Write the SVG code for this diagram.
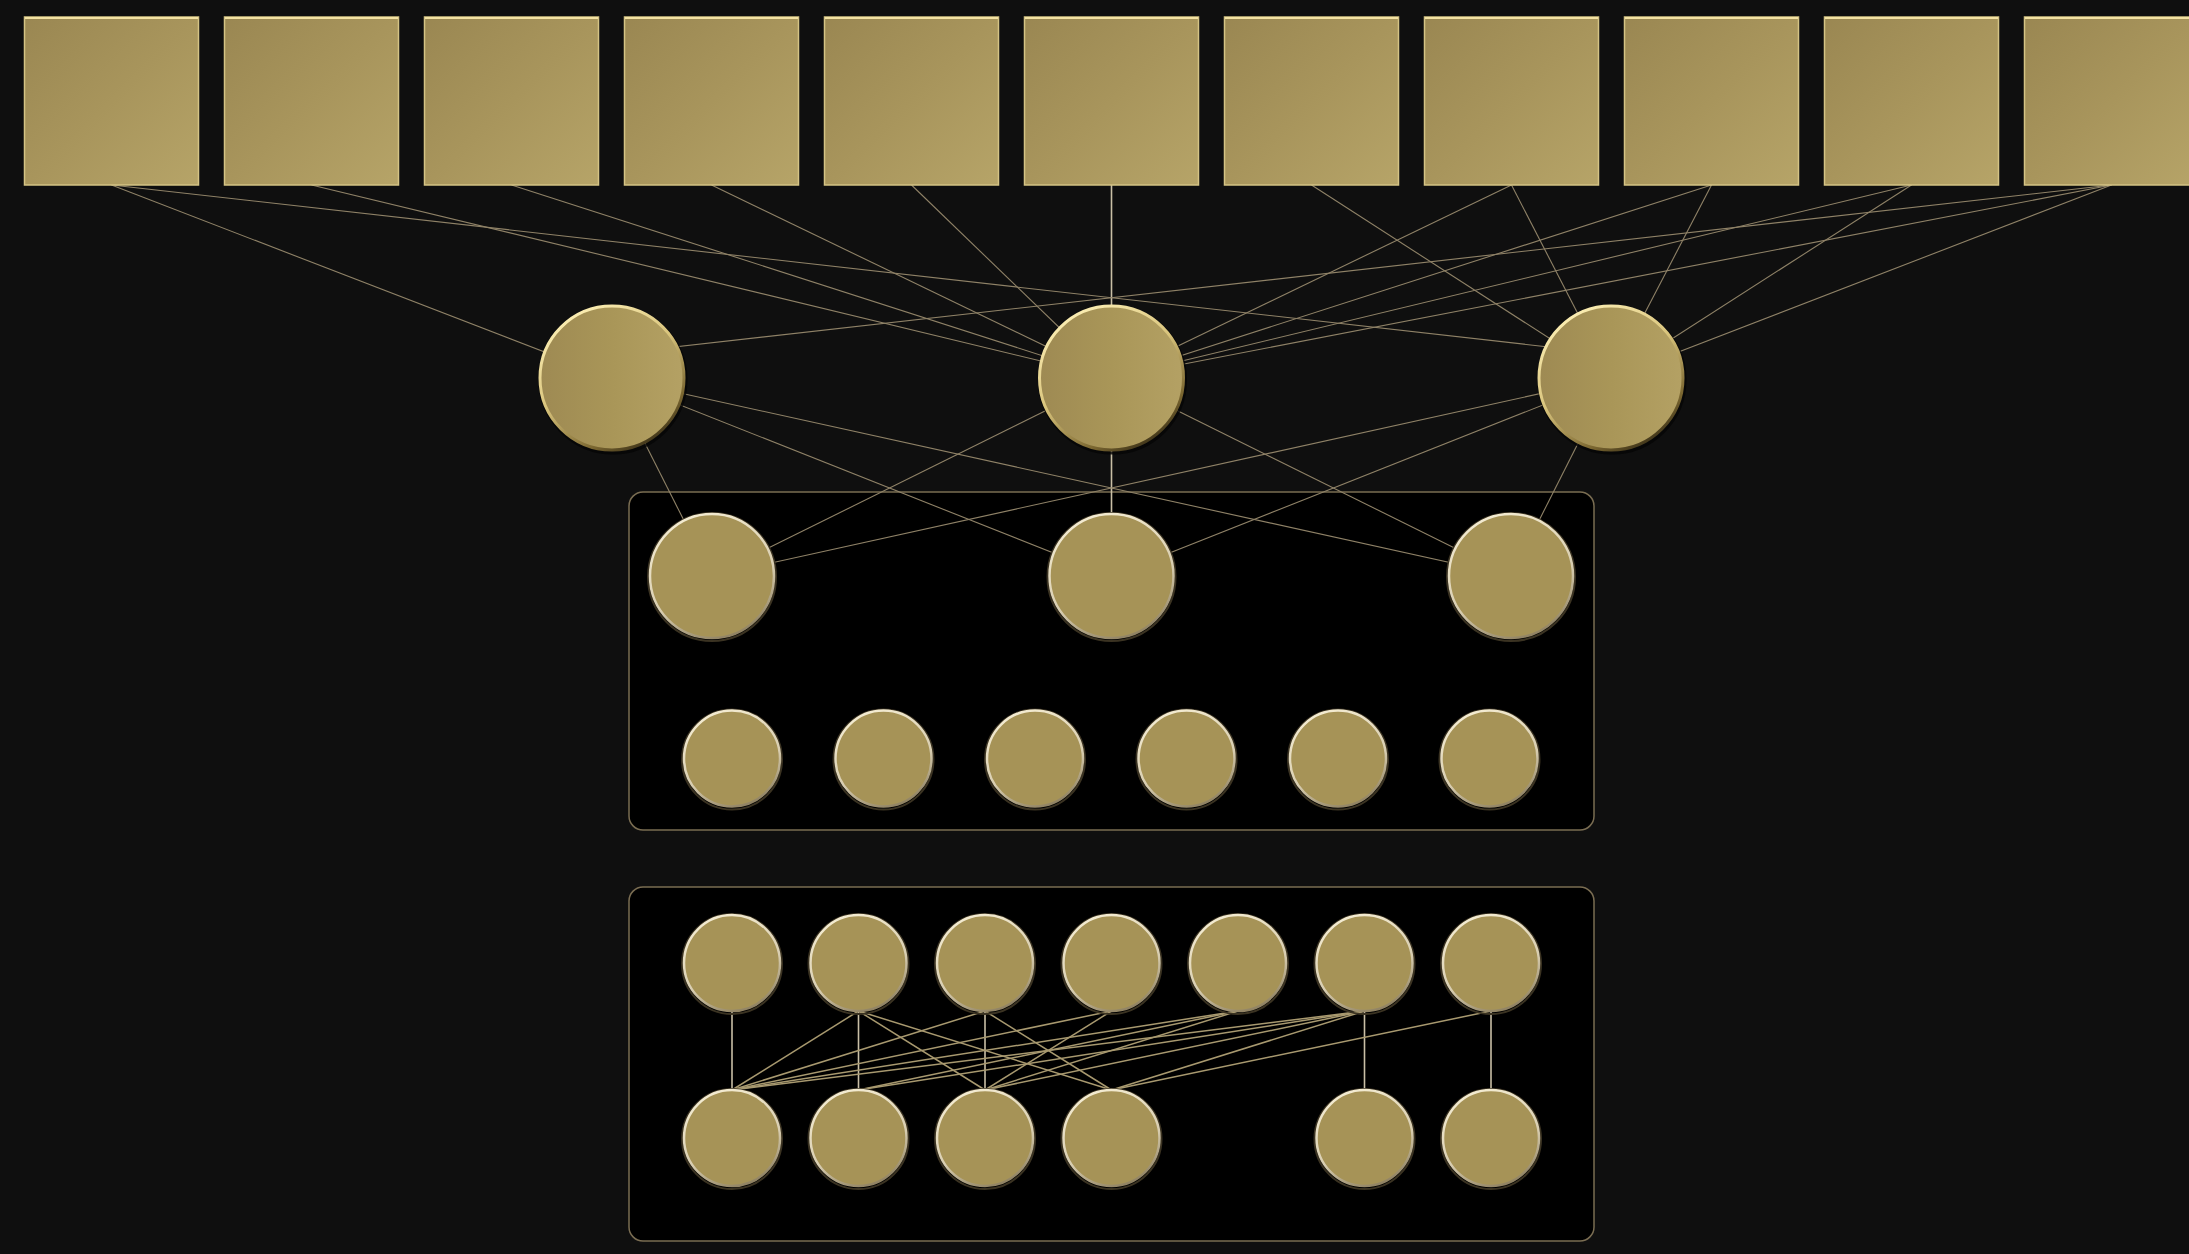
<svg xmlns="http://www.w3.org/2000/svg" width="2189" height="1254" viewBox="0 0 2189 1254">
<defs>
<linearGradient id="sqGrad" x1="0" y1="0" x2="1" y2="1">
<stop offset="0" stop-color="#9a8752"/>
<stop offset="0.5" stop-color="#a8955c"/>
<stop offset="1" stop-color="#b6a468"/>
</linearGradient>
<linearGradient id="midGrad" x1="0" y1="0" x2="1" y2="0">
<stop offset="0" stop-color="#9e8a53"/>
<stop offset="0.5" stop-color="#a99658"/>
<stop offset="1" stop-color="#b4a164"/>
</linearGradient>
<linearGradient id="rimGrad" x1="0.2" y1="0" x2="0.8" y2="1">
<stop offset="0" stop-color="#fff2b8"/>
<stop offset="0.45" stop-color="#d9c47c"/>
<stop offset="0.8" stop-color="#7a6630"/>
<stop offset="1" stop-color="#2c2412"/>
</linearGradient>
<linearGradient id="smallRim" x1="0.3" y1="0" x2="0.7" y2="1">
<stop offset="0" stop-color="#f4ecd2"/>
<stop offset="0.6" stop-color="#d8cdb0"/>
<stop offset="1" stop-color="#8a7c5c"/>
</linearGradient>
</defs>
<style>
.bg{fill:#0f0f0f}
.box{fill:#000;stroke:#7a6d52;stroke-width:1.5}
.sq{fill:url(#sqGrad);stroke:#d4c384;stroke-width:1.5}
.sqTop{stroke:#f3e2a2;stroke-width:2}
.mid{fill:url(#midGrad);stroke:url(#rimGrad);stroke-width:3}
.midShadow{fill:none;stroke:#050505;stroke-width:3;opacity:0.8}
.big{fill:#a69357;stroke:url(#smallRim);stroke-width:2.5}
.sm{fill:#a69357;stroke:url(#smallRim);stroke-width:2.5}
.ring{fill:none;stroke:#3b3322;stroke-width:2}
.ln{stroke:#8f8267;stroke-width:1.1;fill:none}
.ln2{stroke:#a8996f;stroke-width:1.5;fill:none}
.vert{stroke:#c9bfa6;stroke-width:1.6;fill:none}
</style>
<rect class="bg" x="0" y="0" width="2189" height="1254"/>

<g id="cluster1"><rect class="box" x="629" y="492" width="965" height="338" rx="14"/></g>
<g id="cluster2"><rect class="box" x="629" y="887" width="965" height="354" rx="14"/></g>

<g id="connectors">
<!-- squares to mid circles -->
<line class="ln" x1="111.5" y1="185" x2="612" y2="378"/>
<line class="ln" x1="111.5" y1="185" x2="1611" y2="354"/>
<line class="ln" x1="311.5" y1="185" x2="1111.5" y2="378"/>
<line class="ln" x1="511.5" y1="185" x2="1111.5" y2="378"/>
<line class="ln" x1="711.5" y1="185" x2="1111.5" y2="378"/>
<line class="ln" x1="911.5" y1="185" x2="1111.5" y2="378"/>
<line class="vert" x1="1111.5" y1="185" x2="1111.5" y2="378"/>
<line class="ln" x1="1311.5" y1="185" x2="1611" y2="378"/>
<line class="ln" x1="1511.5" y1="185" x2="1111.5" y2="378"/>
<line class="ln" x1="1511.5" y1="185" x2="1611" y2="378"/>
<line class="ln" x1="1711.5" y1="185" x2="1111.5" y2="378"/>
<line class="ln" x1="1711.5" y1="185" x2="1611" y2="378"/>
<line class="ln" x1="1911.5" y1="185" x2="1111.5" y2="378"/>
<line class="ln" x1="1911.5" y1="185" x2="1611" y2="378"/>
<line class="ln" x1="2111.5" y1="185" x2="1111.5" y2="378"/>
<line class="ln" x1="2111.5" y1="185" x2="1611" y2="378"/>
<line class="ln" x1="2111.5" y1="185" x2="612" y2="354"/>
<!-- mid circles to cluster1 -->
<line class="ln" x1="612" y1="378" x2="712" y2="576"/>
<line class="ln" x1="612" y1="378" x2="1111.5" y2="576"/>
<line class="ln" x1="612" y1="378" x2="1511" y2="576"/>
<line class="ln" x1="1111.5" y1="378" x2="712" y2="576"/>
<line class="vert" x1="1111.5" y1="378" x2="1111.5" y2="576"/>
<line class="ln" x1="1111.5" y1="378" x2="1511" y2="576"/>
<line class="ln" x1="1611" y1="378" x2="712" y2="576"/>
<line class="ln" x1="1611" y1="378" x2="1111.5" y2="576"/>
<line class="ln" x1="1611" y1="378" x2="1511" y2="576"/>
<!-- cluster2 -->
<line class="vert" x1="732" y1="1011" x2="732" y2="1090"/>
<line class="ln2" x1="858.5" y1="1011" x2="732" y2="1090"/>
<line class="vert" x1="858.5" y1="1011" x2="858.5" y2="1090"/>
<line class="ln2" x1="858.5" y1="1011" x2="985" y2="1090"/>
<line class="ln2" x1="858.5" y1="1011" x2="1111.5" y2="1090"/>
<line class="ln2" x1="985" y1="1011" x2="732" y2="1090"/>
<line class="vert" x1="985" y1="1011" x2="985" y2="1090"/>
<line class="ln2" x1="985" y1="1011" x2="1111.5" y2="1090"/>
<line class="ln2" x1="1111.5" y1="1011" x2="732" y2="1090"/>
<line class="ln2" x1="1111.5" y1="1011" x2="985" y2="1090"/>
<line class="ln2" x1="1238" y1="1011" x2="732" y2="1090"/>
<line class="ln2" x1="1238" y1="1011" x2="858.5" y2="1090"/>
<line class="ln2" x1="1238" y1="1011" x2="985" y2="1090"/>
<line class="ln2" x1="1364.5" y1="1011" x2="732" y2="1090"/>
<line class="ln2" x1="1364.5" y1="1011" x2="858.5" y2="1090"/>
<line class="ln2" x1="1364.5" y1="1011" x2="985" y2="1090"/>
<line class="ln2" x1="1364.5" y1="1011" x2="1111.5" y2="1090"/>
<line class="vert" x1="1364.5" y1="1011" x2="1364.5" y2="1090"/>
<line class="ln2" x1="1491" y1="1011" x2="1111.5" y2="1090"/>
<line class="vert" x1="1491" y1="1011" x2="1491" y2="1090"/>
</g>

<g id="sq1"><rect class="sq" x="24.5" y="17" width="174" height="168"/><line class="sqTop" x1="25" y1="18" x2="198" y2="18"/></g>
<g id="sq2"><rect class="sq" x="224.5" y="17" width="174" height="168"/><line class="sqTop" x1="225" y1="18" x2="398" y2="18"/></g>
<g id="sq3"><rect class="sq" x="424.5" y="17" width="174" height="168"/><line class="sqTop" x1="425" y1="18" x2="598" y2="18"/></g>
<g id="sq4"><rect class="sq" x="624.5" y="17" width="174" height="168"/><line class="sqTop" x1="625" y1="18" x2="798" y2="18"/></g>
<g id="sq5"><rect class="sq" x="824.5" y="17" width="174" height="168"/><line class="sqTop" x1="825" y1="18" x2="998" y2="18"/></g>
<g id="sq6"><rect class="sq" x="1024.5" y="17" width="174" height="168"/><line class="sqTop" x1="1025" y1="18" x2="1198" y2="18"/></g>
<g id="sq7"><rect class="sq" x="1224.5" y="17" width="174" height="168"/><line class="sqTop" x1="1225" y1="18" x2="1398" y2="18"/></g>
<g id="sq8"><rect class="sq" x="1424.5" y="17" width="174" height="168"/><line class="sqTop" x1="1425" y1="18" x2="1598" y2="18"/></g>
<g id="sq9"><rect class="sq" x="1624.5" y="17" width="174" height="168"/><line class="sqTop" x1="1625" y1="18" x2="1798" y2="18"/></g>
<g id="sq10"><rect class="sq" x="1824.5" y="17" width="174" height="168"/><line class="sqTop" x1="1825" y1="18" x2="1998" y2="18"/></g>
<g id="sq11"><rect class="sq" x="2024.5" y="17" width="174" height="168"/><line class="sqTop" x1="2025" y1="18" x2="2198" y2="18"/></g>

<g id="c1"><circle class="midShadow" cx="613" cy="380" r="73"/><circle class="mid" cx="612" cy="378" r="72"/></g>
<g id="c2"><circle class="midShadow" cx="1112.5" cy="380" r="73"/><circle class="mid" cx="1111.5" cy="378" r="72"/></g>
<g id="c3"><circle class="midShadow" cx="1612" cy="380" r="73"/><circle class="mid" cx="1611" cy="378" r="72"/></g>

<g id="b1"><circle class="ring" cx="712" cy="577" r="64"/><circle class="big" cx="712" cy="576" r="62"/></g>
<g id="b2"><circle class="ring" cx="1111.5" cy="577" r="64"/><circle class="big" cx="1111.5" cy="576" r="62"/></g>
<g id="b3"><circle class="ring" cx="1511" cy="577" r="64"/><circle class="big" cx="1511" cy="576" r="62"/></g>

<g id="s1"><circle class="ring" cx="732" cy="759.5" r="50"/><circle class="sm" cx="732" cy="758.5" r="48"/></g>
<g id="s2"><circle class="ring" cx="883.5" cy="759.5" r="50"/><circle class="sm" cx="883.5" cy="758.5" r="48"/></g>
<g id="s3"><circle class="ring" cx="1035" cy="759.5" r="50"/><circle class="sm" cx="1035" cy="758.5" r="48"/></g>
<g id="s4"><circle class="ring" cx="1186.5" cy="759.5" r="50"/><circle class="sm" cx="1186.5" cy="758.5" r="48"/></g>
<g id="s5"><circle class="ring" cx="1338" cy="759.5" r="50"/><circle class="sm" cx="1338" cy="758.5" r="48"/></g>
<g id="s6"><circle class="ring" cx="1489.5" cy="759.5" r="50"/><circle class="sm" cx="1489.5" cy="758.5" r="48"/></g>

<g id="t1"><circle class="ring" cx="732" cy="964" r="50"/><circle class="sm" cx="732" cy="963" r="48"/></g>
<g id="t2"><circle class="ring" cx="858.5" cy="964" r="50"/><circle class="sm" cx="858.5" cy="963" r="48"/></g>
<g id="t3"><circle class="ring" cx="985" cy="964" r="50"/><circle class="sm" cx="985" cy="963" r="48"/></g>
<g id="t4"><circle class="ring" cx="1111.5" cy="964" r="50"/><circle class="sm" cx="1111.5" cy="963" r="48"/></g>
<g id="t5"><circle class="ring" cx="1238" cy="964" r="50"/><circle class="sm" cx="1238" cy="963" r="48"/></g>
<g id="t6"><circle class="ring" cx="1364.5" cy="964" r="50"/><circle class="sm" cx="1364.5" cy="963" r="48"/></g>
<g id="t7"><circle class="ring" cx="1491" cy="964" r="50"/><circle class="sm" cx="1491" cy="963" r="48"/></g>

<g id="u1"><circle class="ring" cx="732" cy="1139" r="50"/><circle class="sm" cx="732" cy="1138" r="48"/></g>
<g id="u2"><circle class="ring" cx="858.5" cy="1139" r="50"/><circle class="sm" cx="858.5" cy="1138" r="48"/></g>
<g id="u3"><circle class="ring" cx="985" cy="1139" r="50"/><circle class="sm" cx="985" cy="1138" r="48"/></g>
<g id="u4"><circle class="ring" cx="1111.5" cy="1139" r="50"/><circle class="sm" cx="1111.5" cy="1138" r="48"/></g>
<g id="u6"><circle class="ring" cx="1364.5" cy="1139" r="50"/><circle class="sm" cx="1364.5" cy="1138" r="48"/></g>
<g id="u7"><circle class="ring" cx="1491" cy="1139" r="50"/><circle class="sm" cx="1491" cy="1138" r="48"/></g>
</svg>
